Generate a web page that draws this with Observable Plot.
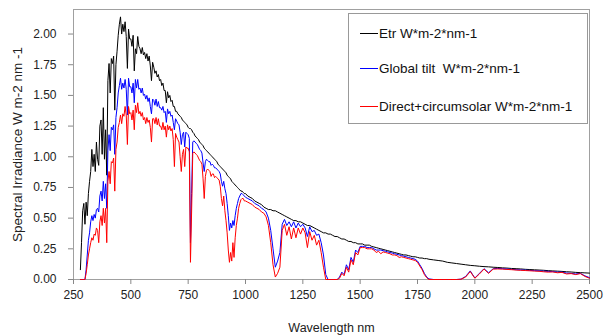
<!DOCTYPE html>
<html>
<head>
<meta charset="utf-8">
<script src="https://cdn.jsdelivr.net/npm/d3@7"></script>
<script src="https://cdn.jsdelivr.net/npm/@observablehq/plot@0.6"></script>
<style>
  body { margin: 0; background: #fff; }
  #chart { position: relative; width: 610px; height: 336px; font-family: "Liberation Sans", Arial, sans-serif; }
  #legend { position: absolute; left: 348px; top: 13px; width: 240px; height: 111px; border: 1px solid #999; background: #fff; box-sizing: border-box; }
  .item { position: absolute; left: 11px; height: 16px; font-size: 13.5px; line-height: 16px; color: #111; white-space: pre; }
  .item i { display: inline-block; width: 18px; height: 0; border-top: 1px solid; vertical-align: middle; margin-right: 1px; position: relative; top: -1px; }
</style>
</head>
<body>
<div id="chart">
  <div id="legend"></div>
</div>
<script>
// Solar spectral irradiance (W m-2 nm-1): extraterrestrial, global tilt, direct + circumsolar
const wavelength = [
  280,285,290,295,300,305,310,315,320,325,330,335,340,345,350,355,360,365,370,375,380,385,390,395,
  400,405,410,415,420,425,430,435,440,445,450,455,460,465,470,475,480,485,490,495,
  500,505,510,515,520,525,530,535,540,545,550,555,560,565,570,575,580,585,590,595,
  600,605,610,615,620,625,630,635,640,645,650,655,660,665,670,675,680,685,690,695,
  700,705,710,715,720,725,730,735,740,745,750,755,760,765,770,775,780,785,790,795,
  800,805,810,815,820,825,830,835,840,845,850,855,860,865,870,875,880,885,890,895,
  900,905,910,915,920,925,930,935,940,945,950,955,960,965,970,975,980,985,990,995,1000,
  1010,1020,1030,1040,1050,1060,1070,1080,1090,1100,1110,1120,1130,1140,1150,1160,1170,1180,1190,1200,
  1210,1220,1230,1240,1250,1260,1270,1280,1290,1300,1310,1320,1330,1340,1350,1360,1370,1380,1390,1400,
  1410,1420,1430,1440,1450,1460,1470,1480,1490,1500,1510,1520,1530,1540,1550,1560,1570,1580,1590,1600,
  1610,1620,1630,1640,1650,1660,1670,1680,1690,1700,1710,1720,1730,1740,1750,1760,1770,1780,1790,1800,
  1820,1840,1860,1880,1900,1920,1940,1960,1980,2000,2020,2040,2060,2080,2100,2120,2140,2160,
  2180,2200,2220,2240,2260,2280,2300,2320,2340,2360,2380,2400,2420,2440,2460,2480,2500
];

const etr = [
  0.08,0.30,0.56,0.62,0.45,0.63,0.52,0.70,0.80,0.88,1.06,0.92,1.02,0.88,1.12,0.98,0.93,1.25,1.30,1.02,1.40,0.98,1.22,0.85,
  1.62,1.76,1.52,1.80,1.76,1.82,1.38,1.75,1.86,1.99,2.08,2.14,2.00,2.08,2.02,2.10,1.98,1.72,2.04,1.96,
  1.96,1.90,1.99,1.70,1.88,1.84,1.98,1.90,1.88,1.84,1.89,1.83,1.85,1.80,1.84,1.78,1.82,1.74,1.62,1.77,
  1.73,1.68,1.70,1.65,1.67,1.62,1.63,1.58,1.60,1.54,1.54,1.44,1.53,1.48,1.50,1.45,1.46,1.41,1.41,1.37,
  1.37,1.35,1.34,1.33,1.32,1.30,1.29,1.28,1.27,1.26,1.24,1.23,1.23,1.22,1.20,1.19,1.17,1.16,1.15,1.14,
  1.12,1.11,1.10,1.09,1.07,1.06,1.05,1.04,1.03,1.02,1.01,1.00,0.99,0.98,0.97,0.96,0.94,0.93,0.92,0.91,
  0.90,0.89,0.88,0.87,0.85,0.84,0.83,0.82,0.80,0.79,0.78,0.77,0.76,0.75,0.74,0.73,0.72,0.72,0.71,0.70,0.70,
  0.68,0.67,0.66,0.64,0.63,0.62,0.61,0.59,0.58,0.57,0.57,0.56,0.56,0.55,0.54,0.53,0.52,0.51,0.50,0.49,
  0.48,0.48,0.47,0.47,0.46,0.45,0.44,0.44,0.43,0.42,0.41,0.40,0.39,0.38,0.38,0.37,0.37,0.36,0.35,0.35,
  0.34,0.33,0.33,0.32,0.31,0.31,0.30,0.30,0.29,0.29,0.29,0.28,0.28,0.28,0.27,0.265,0.26,0.255,0.25,0.245,
  0.24,0.235,0.23,0.225,0.22,0.215,0.21,0.205,0.20,0.20,0.195,0.19,0.185,0.185,0.18,0.175,0.175,0.17,0.17,0.165,
  0.16,0.155,0.15,0.14,0.135,0.13,0.125,0.12,0.115,0.112,0.108,0.105,0.103,0.10,0.098,0.095,0.093,0.09,
  0.088,0.086,0.083,0.081,0.079,0.077,0.075,0.072,0.07,0.068,0.066,0.063,0.061,0.058,0.056,0.054,0.052
];

const globalTilt = [
  0,0,0,0,0,0.08,0.20,0.32,0.38,0.47,0.52,0.48,0.53,0.50,0.57,0.58,0.55,0.68,0.72,0.64,0.80,0.66,0.78,0.58,
  1.05,1.18,1.05,1.24,1.22,1.26,1.02,1.32,1.40,1.52,1.58,1.64,1.55,1.60,1.56,1.63,1.55,1.34,1.64,1.57,
  1.57,1.52,1.60,1.44,1.63,1.56,1.63,1.55,1.56,1.52,1.56,1.50,1.51,1.47,1.50,1.45,1.48,1.41,1.35,1.47,
  1.46,1.42,1.47,1.41,1.45,1.40,1.40,1.38,1.41,1.36,1.37,1.28,1.39,1.35,1.37,1.33,1.34,1.28,1.22,1.31,
  1.29,1.27,1.26,1.20,1.10,1.18,1.20,1.08,1.20,1.19,1.18,1.15,0.30,0.70,1.12,1.13,1.12,1.11,1.10,1.08,
  1.06,1.05,1.03,0.95,0.88,0.96,0.98,0.97,0.96,0.96,0.93,0.94,0.93,0.91,0.91,0.90,0.89,0.88,0.86,0.80,
  0.76,0.80,0.74,0.70,0.62,0.52,0.40,0.46,0.42,0.48,0.44,0.52,0.58,0.62,0.66,0.68,0.70,0.70,0.69,0.68,0.67,
  0.66,0.65,0.64,0.62,0.61,0.60,0.58,0.57,0.55,0.50,0.40,0.25,0.10,0.15,0.22,0.45,0.49,0.44,0.47,0.43,
  0.47,0.42,0.46,0.43,0.45,0.42,0.35,0.43,0.39,0.40,0.36,0.37,0.30,0.20,0.04,0,0,0,0,0,
  0.02,0.06,0.04,0.12,0.08,0.18,0.14,0.24,0.22,0.27,0.27,0.27,0.26,0.26,0.26,0.25,0.24,0.24,0.24,0.235,
  0.23,0.225,0.22,0.215,0.21,0.205,0.20,0.195,0.19,0.185,0.18,0.175,0.17,0.165,0.15,0.12,0.09,0.05,0.02,0.005,
  0,0,0,0,0,0,0.003,0.025,0.07,0.012,0.05,0.088,0.055,0.088,0.09,0.088,0.085,0.083,
  0.08,0.078,0.076,0.074,0.072,0.07,0.068,0.066,0.064,0.06,0.06,0.052,0.05,0.045,0.05,0.03,0.015
];

const direct = [
  0,0,0,0,0,0.05,0.12,0.20,0.25,0.30,0.34,0.32,0.37,0.36,0.42,0.40,0.30,0.47,0.52,0.44,0.58,0.46,0.58,0.30,
  0.80,0.88,0.78,0.96,0.95,0.99,0.72,1.06,1.12,1.24,1.28,1.34,1.27,1.35,1.33,1.41,1.34,1.10,1.41,1.35,
  1.36,1.30,1.38,1.22,1.42,1.36,1.44,1.35,1.37,1.33,1.36,1.30,1.32,1.27,1.32,1.28,1.30,1.24,1.12,1.31,
  1.31,1.27,1.32,1.26,1.31,1.25,1.25,1.22,1.28,1.22,1.25,1.16,1.26,1.22,1.25,1.21,1.23,1.14,0.92,1.19,
  1.16,1.14,1.12,1.00,0.88,1.02,1.06,0.92,1.08,1.07,1.07,1.04,0.14,0.55,1.03,1.04,1.03,1.02,1.01,0.99,
  0.97,0.96,0.94,0.82,0.66,0.84,0.89,0.90,0.89,0.88,0.84,0.86,0.86,0.83,0.84,0.83,0.82,0.81,0.76,0.66,
  0.60,0.68,0.56,0.48,0.38,0.24,0.14,0.22,0.15,0.30,0.18,0.34,0.44,0.50,0.58,0.62,0.65,0.66,0.66,0.64,0.64,
  0.63,0.62,0.61,0.59,0.58,0.57,0.55,0.54,0.51,0.44,0.30,0.12,0.02,0.05,0.10,0.40,0.45,0.36,0.43,0.33,
  0.42,0.34,0.42,0.37,0.42,0.38,0.26,0.39,0.32,0.36,0.28,0.32,0.22,0.10,0,0,0,0,0,0,
  0.01,0.05,0.03,0.10,0.06,0.16,0.12,0.22,0.20,0.26,0.26,0.26,0.25,0.25,0.25,0.24,0.22,0.23,0.21,0.225,
  0.22,0.215,0.21,0.20,0.20,0.195,0.18,0.185,0.18,0.175,0.17,0.165,0.16,0.155,0.14,0.11,0.08,0.04,0.015,0,
  0,0,0,0,0,0,0.002,0.02,0.065,0.01,0.045,0.085,0.05,0.085,0.086,0.085,0.082,0.08,
  0.077,0.075,0.073,0.071,0.069,0.067,0.063,0.06,0.062,0.055,0.058,0.045,0.048,0.04,0.048,0.025,0.01
];

const xTicks = [250, 500, 750, 1000, 1250, 1500, 1750, 2000, 2250, 2500];
const yTicks = [0, 0.25, 0.5, 0.75, 1, 1.25, 1.5, 1.75, 2];
const xTitle = "Wavelength nm";
const yTitle = "Spectral Irradiance W m-2 nm -1";

const seriesNames = ["Etr W*m-2*nm-1", "Global tilt  W*m-2*nm-1", "Direct+circumsolar W*m-2*nm-1"];
const seriesColors = ["#000000", "#0000ff", "#ff0000"];
const seriesValues = [etr, globalTilt, direct];

// one table per series, drawn in legend order so the direct beam sits on top
const tables = seriesValues.map(vals => wavelength.map((w, i) => ({ w, v: vals[i] })));

const chart = Plot.plot({
  width: 610,
  height: 336,
  marginLeft: 73,
  marginRight: 21,
  marginTop: 9,
  marginBottom: 57,
  style: { fontFamily: '"Liberation Sans", Arial, sans-serif', fontSize: "12px", color: "#222", background: "#fff" },
  x: { domain: [250, 2500] },
  y: { domain: [0, 2.2] },
  marks: [
    Plot.frame({ stroke: "#a0a0a0" }),
    Plot.axisX({ ticks: xTicks, tickSize: 5, tickPadding: 6, stroke: "#888", tickFormat: d3.format("d"), label: null }),
    Plot.axisY({ ticks: yTicks, tickSize: 5, tickPadding: 12, stroke: "#888", tickFormat: d3.format(".2f"), label: null }),
    Plot.text([xTitle], { text: d => d, frameAnchor: "bottom", dy: 48, textAnchor: "middle", lineAnchor: "middle", fontSize: 12.5, fill: "#222" }),
    Plot.text([yTitle], { text: d => d, frameAnchor: "left", dx: -56, rotate: -90, textAnchor: "middle", lineAnchor: "middle", fontSize: 13.5, fill: "#222" }),
    ...tables.map((t, i) => Plot.line(t, { x: "w", y: "v", stroke: seriesColors[i], strokeWidth: 1 }))
  ]
});

const root = document.getElementById("chart");
root.insertBefore(chart, root.firstChild);

// legend box inside the plot area
const legend = document.getElementById("legend");
const rowTops = [12, 47, 85];
seriesNames.forEach((name, i) => {
  const item = document.createElement("div");
  item.className = "item";
  item.style.top = rowTops[i] + "px";
  const sw = document.createElement("i");
  sw.style.borderColor = seriesColors[i];
  item.appendChild(sw);
  item.appendChild(document.createTextNode(name));
  legend.appendChild(item);
});
</script>
</body>
</html>
